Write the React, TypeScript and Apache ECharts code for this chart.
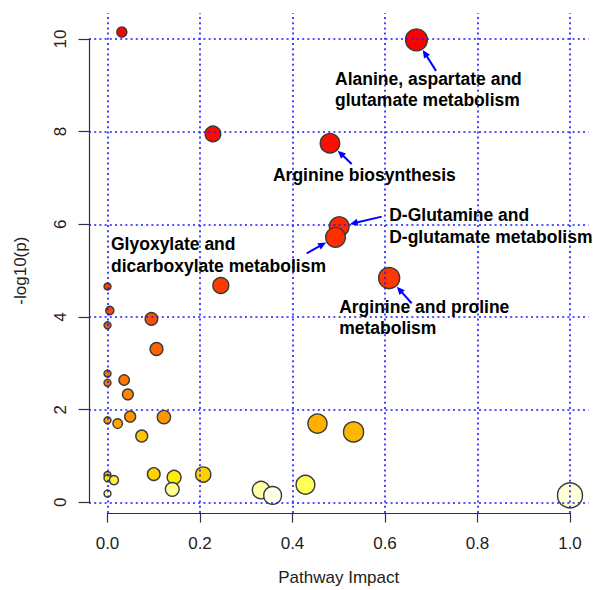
import React, { useEffect, useRef } from "react";
import * as echarts from "echarts";

// ---- data ----
const impact = [0.031, 0.668, 0.228, 0.481, 0.501, 0.493, 0.609, 0.245, 0, 0.005, 0.095, 0, 0.106, 0, 0.036, 0, 0.044, 0.049, 0.122, 0, 0.022, 0.454, 0.532, 0.074, 0.1, 0.207, 0, 0.144, 0, 0.014, 0.428, 0.14, 0.332, 0, 0.357, 1.0];
const negLog10P = [10.15, 9.98, 7.95, 7.75, 5.95, 5.72, 4.84, 4.68, 4.66, 4.14, 3.96, 3.82, 3.31, 2.78, 2.64, 2.58, 2.33, 1.85, 1.84, 1.77, 1.7, 1.7, 1.52, 1.43, 0.61, 0.6, 0.59, 0.54, 0.52, 0.48, 0.38, 0.28, 0.265, 0.19, 0.15, 0.15];
const xTicks = [0, 0.2, 0.4, 0.6, 0.8, 1.0];
const yTicks = [0, 2, 4, 6, 8, 10];
const annotatedNames = [
  "Alanine, aspartate and\nglutamate metabolism",
  "Arginine biosynthesis",
  "D-Glutamine and\nD-glutamate metabolism",
  "Glyoxylate and\ndicarboxylate metabolism",
  "Arginine and proline\nmetabolism",
];
const annotatedPoint = [1, 3, 4, 5, 6];

// ---- styles / layout ----
const heatPalette = [
  "#FF0000", "#FF0000", "#FF0A00", "#FF0D00", "#FF2600", "#FF2E00", "#FF3800", "#FF3C00", "#FF3E00",
  "#FF4800", "#FF5000", "#FF5200", "#FF6000", "#FF7000", "#FF7600", "#FF7A00", "#FF8400", "#FF9400",
  "#FF9600", "#FF9C00", "#FFA400", "#FFB000", "#FFB600", "#FFC400", "#FFD400", "#FFD000", "#D8C000",
  "#FFEE00", "#FFE800", "#FFF040", "#FFFF55", "#FFFF90", "#FFFFA8", "#FFFFC0", "#FFFFE8", "#FFFFD8",
];
// label top-left offset and arrow tail offset, relative to the point (px)
const annotationLayout = [
  { dx: -81.4, dy: 28, tx: 19.6, ty: 31 },
  { dx: -57, dy: 21, tx: 21.7, ty: 20.8 },
  { dx: 50, dy: -22.3, tx: 42.5, ty: -10 },
  { dx: -224.5, dy: -4, tx: -28.8, ty: 16 },
  { dx: -50, dy: 18, tx: 22.5, ty: 25.2 },
];

const W = 593;
const H = 590;
const PLOT = { left: 89, top: 13, width: 499.5, height: 500 };
const X_RANGE = [-0.04, 1.04];
const Y_RANGE = [-0.23, 10.56];
const FONT = '"Liberation Sans", Arial, sans-serif';
const TEXT_COLOR = "#222";

const radiusOf = (imp: number) => 3.5 + 9 * Math.sqrt(imp);

export default function App() {
  const ref = useRef<HTMLDivElement>(null);

  useEffect(() => {
    if (!ref.current) return;
    const chart = echarts.init(ref.current, undefined, { renderer: "svg" });

    const pxX = PLOT.width / (X_RANGE[1] - X_RANGE[0]);
    const pxY = PLOT.height / (Y_RANGE[1] - Y_RANGE[0]);
    const xT0 = xTicks[0], xT1 = xTicks[xTicks.length - 1];
    const yT0 = yTicks[0], yT1 = yTicks[yTicks.length - 1];
    const axLeft = PLOT.left + (xT0 - X_RANGE[0]) * pxX;
    const axRight = PLOT.left + (xT1 - X_RANGE[0]) * pxX;
    const axTop = PLOT.top + (Y_RANGE[1] - yT1) * pxY;
    const axBottom = PLOT.top + (Y_RANGE[1] - yT0) * pxY;

    const order = negLog10P.map((_, i) => i).sort((a, b) => negLog10P[b] - negLog10P[a]);
    const rank: number[] = [];
    order.forEach((idx, r) => (rank[idx] = r));

    const data = impact.map((x, i) => [x, negLog10P[i]]);

    chart.setOption({
      animation: false,
      grid: [
        { left: PLOT.left, top: PLOT.top, width: PLOT.width, height: PLOT.height, outerBoundsMode: "none" },
        { left: axLeft, top: axTop, width: axRight - axLeft, height: axBottom - axTop, outerBoundsMode: "none" },
      ],
      xAxis: [
        { type: "value", gridIndex: 0, min: X_RANGE[0], max: X_RANGE[1], show: false },
        {
          type: "value", gridIndex: 1, min: xT0, max: xT1, interval: 0.2, position: "bottom",
          offset: PLOT.top + PLOT.height - axBottom,
          axisLine: { show: true, onZero: false, lineStyle: { color: "#333", width: 1.2 } },
          axisTick: { show: true, length: 9.5, lineStyle: { color: "#333", width: 1.2 } },
          axisLabel: { fontSize: 17, fontFamily: FONT, color: TEXT_COLOR, margin: 22, formatter: (v: number) => v.toFixed(1) },
          splitLine: { show: false },
          name: "Pathway Impact", nameLocation: "middle", nameGap: 56,
          nameTextStyle: { fontSize: 17, fontFamily: FONT, color: TEXT_COLOR },
        },
      ],
      yAxis: [
        { type: "value", gridIndex: 0, min: Y_RANGE[0], max: Y_RANGE[1], show: false },
        {
          type: "value", gridIndex: 1, min: yT0, max: yT1, interval: 2, position: "left",
          offset: axLeft - PLOT.left,
          axisLine: { show: true, onZero: false, lineStyle: { color: "#333", width: 1.2 } },
          axisTick: { show: true, length: 10.5, lineStyle: { color: "#333", width: 1.2 } },
          axisLabel: { fontSize: 17, fontFamily: FONT, color: TEXT_COLOR, margin: 20, rotate: 90 },
          splitLine: { show: false },
          name: "-log10(p)", nameLocation: "middle", nameGap: 60, nameRotate: 90,
          nameTextStyle: { fontSize: 17, fontFamily: FONT, color: TEXT_COLOR },
        },
      ],
      series: [
        {
          type: "scatter", xAxisIndex: 0, yAxisIndex: 0, data: [], silent: true, z: 1,
          markLine: {
            silent: true, symbol: ["none", "none"], label: { show: false }, animation: false,
            lineStyle: { color: "#1a1aff", width: 1.6, type: [2, 3.2] },
            data: [...xTicks.map((v) => ({ xAxis: v })), ...yTicks.map((v) => ({ yAxis: v }))],
          },
        },
        {
          type: "scatter", xAxisIndex: 0, yAxisIndex: 0, z: 3, clip: false,
          data,
          symbol: "circle",
          symbolSize: (val: number[]) => 2 * radiusOf(val[0]),
          itemStyle: {
            color: (p: any) => heatPalette[rank[p.dataIndex]],
            borderColor: "#3a3a3a",
            borderWidth: 1.4,
            opacity: 1,
          },
        },
      ],
    });

    const graphics: any[] = [];
    annotatedPoint.forEach((pi, k) => {
      const lay = annotationLayout[k];
      const p = chart.convertToPixel({ xAxisIndex: 0, yAxisIndex: 0 }, data[pi]) as number[];
      const r = radiusOf(impact[pi]);
      graphics.push({
        type: "text", x: p[0] + lay.dx, y: p[1] + lay.dy, z: 100,
        style: {
          text: annotatedNames[k], fill: "#000", fontSize: 17.5, fontWeight: "bold",
          fontFamily: FONT, lineHeight: 21.5, verticalAlign: "top", align: "left",
        },
      });
      const tail = [p[0] + lay.tx, p[1] + lay.ty];
      const dxv = p[0] - tail[0], dyv = p[1] - tail[1];
      const len = Math.sqrt(dxv * dxv + dyv * dyv);
      const ux = dxv / len, uy = dyv / len;
      const tip = [p[0] - ux * (r + 1), p[1] - uy * (r + 1)];
      const hl = 8, hw = 3.6;
      const base = [tip[0] - ux * hl, tip[1] - uy * hl];
      graphics.push({
        type: "line", z: 99,
        shape: { x1: tail[0], y1: tail[1], x2: base[0] + ux * 2, y2: base[1] + uy * 2 },
        style: { stroke: "#0000ff", lineWidth: 2 },
      });
      graphics.push({
        type: "polygon", z: 99,
        shape: { points: [tip, [base[0] - uy * hw, base[1] + ux * hw], [base[0] + uy * hw, base[1] - ux * hw]] },
        style: { fill: "#0000ff" },
      });
    });
    chart.setOption({ graphic: graphics });

    return () => chart.dispose();
  }, []);

  return (
    <div style={{ position: "absolute", left: 0, top: 0, width: W, height: H, background: "#fff" }}>
      <div ref={ref} style={{ width: W, height: H }} />
    </div>
  );
}
